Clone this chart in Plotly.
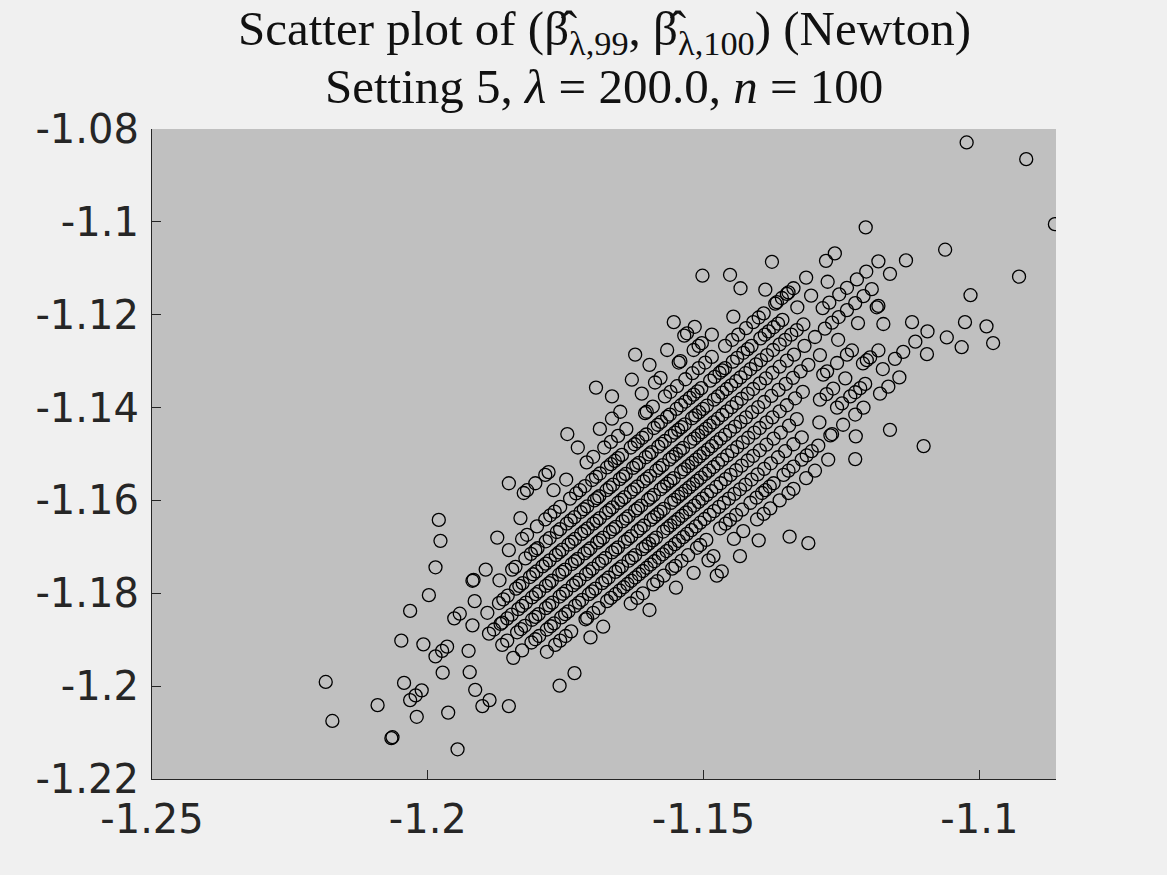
import plotly.graph_objects as go

BG_PAPER = '#f0f0f0'
BG_PLOT = '#c0c0c0'
AXIS = '#262626'

# estimates of (beta_99, beta_100); the points sit on diagonal bands,
# grouped here band by band (upper-left band first)
x_b8 = [-1.1502]
y_b8 = [-1.1116]

x_b7 = [-1.1980, -1.1695, -1.1624, -1.1554, -1.1452]
y_b7 = [-1.1642, -1.1357, -1.1286, -1.1216, -1.1114]

x_b6 = [-1.1977, -1.1853, -1.1747, -1.1666, -1.1630, -1.1598, -1.1566, -1.1535,
        -1.1530, -1.1516, -1.1433, -1.1376]
y_b6 = [-1.1687, -1.1563, -1.1457, -1.1376, -1.1340, -1.1308, -1.1276, -1.1245,
        -1.1240, -1.1226, -1.1143, -1.1086]

x_b5 = [-1.1986, -1.1826, -1.1820, -1.1805, -1.1787, -1.1781, -1.1728, -1.1688,
        -1.1666, -1.1651, -1.1612, -1.1588, -1.1578, -1.1545, -1.1542, -1.1518,
        -1.1509, -1.1503, -1.1485, -1.1446, -1.1388]
y_b5 = [-1.1744, -1.1584, -1.1578, -1.1563, -1.1545, -1.1539, -1.1486, -1.1446,
        -1.1424, -1.1409, -1.1370, -1.1346, -1.1336, -1.1303, -1.1300, -1.1276,
        -1.1267, -1.1261, -1.1243, -1.1204, -1.1146]

x_b4 = [-1.2185, -1.2032, -1.1998, -1.1874, -1.1832, -1.1772, -1.1749, -1.1712,
        -1.1680, -1.1655, -1.1606, -1.1603, -1.1570, -1.1548, -1.1520, -1.1497,
        -1.1485, -1.1461, -1.1423, -1.1400, -1.1391, -1.1370, -1.1367, -1.1358,
        -1.1349, -1.1346, -1.1337, -1.1314, -1.1278, -1.1262, -1.1206, -1.1023,
        -1.1700, -1.1668, -1.1640, -1.1592, -1.1560, -1.1533, -1.1509, -1.1448,
        -1.1437, -1.1410]
y_b4 = [-1.1991, -1.1838, -1.1804, -1.1680, -1.1638, -1.1578, -1.1555, -1.1518,
        -1.1486, -1.1461, -1.1412, -1.1409, -1.1376, -1.1354, -1.1326, -1.1303,
        -1.1291, -1.1267, -1.1229, -1.1206, -1.1197, -1.1176, -1.1173, -1.1164,
        -1.1155, -1.1152, -1.1143, -1.1120, -1.1084, -1.1068, -1.1012, -1.0829,
        -1.1506, -1.1474, -1.1446, -1.1398, -1.1366, -1.1339, -1.1315, -1.1254,
        -1.1243, -1.1216]

x_b3 = [-1.2048, -1.1919, -1.1917, -1.1895, -1.1853, -1.1829, -1.1820, -1.1802,
        -1.1787, -1.1778, -1.1760, -1.1742, -1.1731, -1.1715, -1.1702, -1.1688,
        -1.1675, -1.1661, -1.1648, -1.1632, -1.1619, -1.1604, -1.1590, -1.1577,
        -1.1561, -1.1549, -1.1533, -1.1518, -1.1504, -1.1488, -1.1471, -1.1461,
        -1.1447, -1.1428, -1.1413, -1.1397, -1.1382, -1.1373, -1.1357, -1.1330,
        -1.1305, -1.1275,
        -1.1770, -1.1724, -1.1695, -1.1668, -1.1655, -1.1625, -1.1611, -1.1583,
        -1.1566, -1.1541, -1.1525, -1.1511, -1.1480, -1.1466, -1.1439, -1.1420,
        -1.1389, -1.1365]
y_b3 = [-1.1902, -1.1773, -1.1771, -1.1749, -1.1707, -1.1683, -1.1674, -1.1656,
        -1.1641, -1.1632, -1.1614, -1.1596, -1.1585, -1.1569, -1.1556, -1.1542,
        -1.1529, -1.1515, -1.1502, -1.1486, -1.1473, -1.1458, -1.1444, -1.1431,
        -1.1415, -1.1403, -1.1387, -1.1372, -1.1358, -1.1342, -1.1325, -1.1315,
        -1.1301, -1.1282, -1.1267, -1.1251, -1.1236, -1.1227, -1.1211, -1.1184,
        -1.1159, -1.1129,
        -1.1624, -1.1578, -1.1549, -1.1522, -1.1509, -1.1479, -1.1465, -1.1437,
        -1.1420, -1.1395, -1.1379, -1.1365, -1.1334, -1.1320, -1.1293, -1.1274,
        -1.1243, -1.1219]

x_b2 = [-1.2173, -1.2008, -1.1952, -1.1942, -1.1915, -1.1870, -1.1847, -1.1841,
        -1.1823, -1.1805, -1.1801, -1.1786, -1.1766, -1.1760, -1.1748, -1.1734,
        -1.1723, -1.1711, -1.1698, -1.1689, -1.1676, -1.1664, -1.1652, -1.1641,
        -1.1628, -1.1617, -1.1605, -1.1594, -1.1582, -1.1570, -1.1559, -1.1546,
        -1.1534, -1.1521, -1.1508, -1.1494, -1.1481, -1.1466, -1.1450, -1.1433,
        -1.1415, -1.1396, -1.1374, -1.1352, -1.1331, -1.1319, -1.1284, -1.1272,
        -1.1254, -1.1240, -1.1222, -1.1205, -1.1183,
        -1.1813, -1.1779, -1.1741, -1.1717, -1.1693, -1.1670, -1.1646, -1.1622,
        -1.1599, -1.1576, -1.1552, -1.1540, -1.1515, -1.1501, -1.1474, -1.1458,
        -1.1441, -1.1424, -1.1405, -1.1385, -1.1362, -1.1341]
y_b2 = [-1.2075, -1.1910, -1.1854, -1.1844, -1.1817, -1.1772, -1.1749, -1.1743,
        -1.1725, -1.1707, -1.1703, -1.1688, -1.1668, -1.1662, -1.1650, -1.1636,
        -1.1625, -1.1613, -1.1600, -1.1591, -1.1578, -1.1566, -1.1554, -1.1543,
        -1.1530, -1.1519, -1.1507, -1.1496, -1.1484, -1.1472, -1.1461, -1.1448,
        -1.1436, -1.1423, -1.1410, -1.1396, -1.1383, -1.1368, -1.1352, -1.1335,
        -1.1317, -1.1298, -1.1276, -1.1254, -1.1233, -1.1221, -1.1186, -1.1174,
        -1.1156, -1.1142, -1.1124, -1.1107, -1.1085,
        -1.1715, -1.1681, -1.1643, -1.1619, -1.1595, -1.1572, -1.1548, -1.1524,
        -1.1501, -1.1478, -1.1454, -1.1442, -1.1417, -1.1403, -1.1376, -1.1360,
        -1.1343, -1.1326, -1.1307, -1.1287, -1.1264, -1.1243]

x_b1 = [-1.2091, -1.2043, -1.1986, -1.1974, -1.1965, -1.1919, -1.1892, -1.1871,
        -1.1855, -1.1840, -1.1828, -1.1815, -1.1803, -1.1792, -1.1779, -1.1768,
        -1.1756, -1.1745, -1.1733, -1.1722, -1.1710, -1.1700, -1.1688, -1.1677,
        -1.1665, -1.1655, -1.1643, -1.1632, -1.1620, -1.1609, -1.1597, -1.1586,
        -1.1574, -1.1562, -1.1550, -1.1537, -1.1524, -1.1510, -1.1496, -1.1482,
        -1.1466, -1.1449, -1.1431, -1.1410, -1.1387, -1.1362, -1.1336, -1.1298,
        -1.1280, -1.1267, -1.1255, -1.1240, -1.1225, -1.1210, -1.1195, -1.1162,
        -1.1133, -1.0915,
        -1.1863, -1.1834, -1.1809, -1.1786, -1.1762, -1.1739, -1.1716, -1.1694,
        -1.1671, -1.1649, -1.1626, -1.1603, -1.1580, -1.1556, -1.1543, -1.1517,
        -1.1503, -1.1489, -1.1474, -1.1458, -1.1440, -1.1420, -1.1398, -1.1375,
        -1.1349, -1.1317]
y_b1 = [-1.2041, -1.1993, -1.1936, -1.1924, -1.1915, -1.1869, -1.1842, -1.1821,
        -1.1805, -1.1790, -1.1778, -1.1765, -1.1753, -1.1742, -1.1729, -1.1718,
        -1.1706, -1.1695, -1.1683, -1.1672, -1.1660, -1.1650, -1.1638, -1.1627,
        -1.1615, -1.1605, -1.1593, -1.1582, -1.1570, -1.1559, -1.1547, -1.1536,
        -1.1524, -1.1512, -1.1500, -1.1487, -1.1474, -1.1460, -1.1446, -1.1432,
        -1.1416, -1.1399, -1.1381, -1.1360, -1.1337, -1.1312, -1.1286, -1.1248,
        -1.1230, -1.1217, -1.1205, -1.1190, -1.1175, -1.1160, -1.1145, -1.1112,
        -1.1083, -1.0865,
        -1.1813, -1.1784, -1.1759, -1.1736, -1.1712, -1.1689, -1.1666, -1.1644,
        -1.1621, -1.1599, -1.1576, -1.1553, -1.1530, -1.1506, -1.1493, -1.1467,
        -1.1453, -1.1439, -1.1424, -1.1408, -1.1390, -1.1370, -1.1348, -1.1325,
        -1.1299, -1.1267]

x_b0 = [-1.2032, -1.2022, -1.2011, -1.1973, -1.1926, -1.1889, -1.1880, -1.1868,
        -1.1865, -1.1848, -1.1836, -1.1822, -1.1811, -1.1798, -1.1786, -1.1775,
        -1.1762, -1.1751, -1.1739, -1.1728, -1.1716, -1.1705, -1.1693, -1.1682,
        -1.1670, -1.1659, -1.1647, -1.1636, -1.1624, -1.1613, -1.1601, -1.1590,
        -1.1578, -1.1566, -1.1554, -1.1541, -1.1528, -1.1514, -1.1500, -1.1485,
        -1.1469, -1.1452, -1.1433, -1.1412, -1.1390, -1.1364, -1.1338, -1.1310,
        -1.1289, -1.1256, -1.1220, -1.1186, -1.1183, -1.1062,
        -1.1856, -1.1829, -1.1804, -1.1780, -1.1756, -1.1733, -1.1710, -1.1688,
        -1.1664, -1.1641, -1.1619, -1.1596, -1.1572, -1.1560, -1.1535, -1.1521,
        -1.1507, -1.1492, -1.1477, -1.1461, -1.1443, -1.1423, -1.1401, -1.1377,
        -1.1351, -1.1324]
y_b0 = [-1.2030, -1.2020, -1.2009, -1.1971, -1.1924, -1.1887, -1.1878, -1.1866,
        -1.1863, -1.1846, -1.1834, -1.1820, -1.1809, -1.1796, -1.1784, -1.1773,
        -1.1760, -1.1749, -1.1737, -1.1726, -1.1714, -1.1703, -1.1691, -1.1680,
        -1.1668, -1.1657, -1.1645, -1.1634, -1.1622, -1.1611, -1.1599, -1.1588,
        -1.1576, -1.1564, -1.1552, -1.1539, -1.1526, -1.1512, -1.1498, -1.1483,
        -1.1467, -1.1450, -1.1431, -1.1410, -1.1388, -1.1362, -1.1336, -1.1308,
        -1.1287, -1.1254, -1.1218, -1.1184, -1.1181, -1.1060,
        -1.1854, -1.1827, -1.1802, -1.1778, -1.1754, -1.1731, -1.1708, -1.1686,
        -1.1662, -1.1639, -1.1617, -1.1594, -1.1570, -1.1558, -1.1533, -1.1519,
        -1.1505, -1.1490, -1.1475, -1.1459, -1.1441, -1.1421, -1.1399, -1.1375,
        -1.1349, -1.1322]

x_m1 = [-1.2066, -1.2064, -1.2020, -1.1924, -1.1865, -1.1856, -1.1838, -1.1824,
        -1.1811, -1.1799, -1.1786, -1.1774, -1.1761, -1.1749, -1.1737, -1.1725,
        -1.1713, -1.1701, -1.1690, -1.1678, -1.1666, -1.1655, -1.1643, -1.1631,
        -1.1620, -1.1608, -1.1596, -1.1584, -1.1572, -1.1559, -1.1546, -1.1533,
        -1.1519, -1.1505, -1.1490, -1.1474, -1.1457, -1.1439, -1.1419, -1.1398,
        -1.1375, -1.1349, -1.1320, -1.1283, -1.1276, -1.1258, -1.1240, -1.1231,
        -1.1174,
        -1.1831, -1.1805, -1.1780, -1.1755, -1.1731, -1.1707, -1.1684, -1.1660,
        -1.1637, -1.1614, -1.1590, -1.1578, -1.1553, -1.1540, -1.1526, -1.1512,
        -1.1497, -1.1482, -1.1466, -1.1448, -1.1429, -1.1408, -1.1386, -1.1362,
        -1.1334]
y_m1 = [-1.2112, -1.2110, -1.2066, -1.1970, -1.1911, -1.1902, -1.1884, -1.1870,
        -1.1857, -1.1845, -1.1832, -1.1820, -1.1807, -1.1795, -1.1783, -1.1771,
        -1.1759, -1.1747, -1.1736, -1.1724, -1.1712, -1.1701, -1.1689, -1.1677,
        -1.1666, -1.1654, -1.1642, -1.1630, -1.1618, -1.1605, -1.1592, -1.1579,
        -1.1565, -1.1551, -1.1536, -1.1520, -1.1503, -1.1485, -1.1465, -1.1444,
        -1.1421, -1.1395, -1.1366, -1.1329, -1.1322, -1.1304, -1.1286, -1.1277,
        -1.1220,
        -1.1877, -1.1851, -1.1826, -1.1801, -1.1777, -1.1753, -1.1730, -1.1706,
        -1.1683, -1.1660, -1.1636, -1.1624, -1.1599, -1.1586, -1.1572, -1.1558,
        -1.1543, -1.1528, -1.1512, -1.1494, -1.1475, -1.1454, -1.1432, -1.1408,
        -1.1380]

x_m2 = [-1.1963, -1.1914, -1.1845, -1.1829, -1.1812, -1.1798, -1.1784, -1.1771,
        -1.1758, -1.1745, -1.1733, -1.1720, -1.1708, -1.1696, -1.1684, -1.1672,
        -1.1660, -1.1648, -1.1636, -1.1624, -1.1611, -1.1599, -1.1586, -1.1573,
        -1.1560, -1.1546, -1.1532, -1.1517, -1.1502, -1.1486, -1.1469, -1.1451,
        -1.1431, -1.1410, -1.1386, -1.1360, -1.1331, -1.1289, -1.1277, -1.1265,
        -1.1243, -1.1211, -1.1204, -1.1198, -1.1183, -1.1122,
        -1.1805, -1.1777, -1.1751, -1.1726, -1.1702, -1.1678, -1.1654, -1.1630,
        -1.1605, -1.1592, -1.1566, -1.1553, -1.1539, -1.1525, -1.1509, -1.1494,
        -1.1477, -1.1460, -1.1441, -1.1420, -1.1398, -1.1373, -1.1345]
y_m2 = [-1.2057, -1.2008, -1.1939, -1.1923, -1.1906, -1.1892, -1.1878, -1.1865,
        -1.1852, -1.1839, -1.1827, -1.1814, -1.1802, -1.1790, -1.1778, -1.1766,
        -1.1754, -1.1742, -1.1730, -1.1718, -1.1705, -1.1693, -1.1680, -1.1667,
        -1.1654, -1.1640, -1.1626, -1.1611, -1.1596, -1.1580, -1.1563, -1.1545,
        -1.1525, -1.1504, -1.1480, -1.1454, -1.1425, -1.1383, -1.1371, -1.1359,
        -1.1337, -1.1305, -1.1298, -1.1292, -1.1277, -1.1216,
        -1.1899, -1.1871, -1.1845, -1.1820, -1.1796, -1.1772, -1.1748, -1.1724,
        -1.1699, -1.1686, -1.1660, -1.1647, -1.1633, -1.1619, -1.1603, -1.1588,
        -1.1571, -1.1554, -1.1535, -1.1514, -1.1492, -1.1467, -1.1439]

x_m3 = [-1.1901, -1.1888, -1.1784, -1.1769, -1.1760, -1.1740, -1.1714, -1.1711,
        -1.1690, -1.1675, -1.1660, -1.1645, -1.1631, -1.1617, -1.1603, -1.1589,
        -1.1574, -1.1560, -1.1545, -1.1530, -1.1514, -1.1498, -1.1481, -1.1463,
        -1.1444, -1.1424, -1.1402, -1.1378, -1.1352, -1.1322, -1.1290, -1.1258,
        -1.1249, -1.1234, -1.1225, -1.1216, -1.1207, -1.1175, -1.1153, -1.1138,
        -1.1116, -1.1094, -1.1016, -1.0863,
        -1.1750, -1.1700, -1.1668, -1.1652, -1.1638, -1.1624, -1.1610, -1.1596,
        -1.1581, -1.1567, -1.1552, -1.1537, -1.1522, -1.1506, -1.1489, -1.1472,
        -1.1454, -1.1434, -1.1413, -1.1390, -1.1365, -1.1337]
y_m3 = [-1.2043, -1.2030, -1.1926, -1.1911, -1.1902, -1.1882, -1.1856, -1.1853,
        -1.1832, -1.1817, -1.1802, -1.1787, -1.1773, -1.1759, -1.1745, -1.1731,
        -1.1716, -1.1702, -1.1687, -1.1672, -1.1656, -1.1640, -1.1623, -1.1605,
        -1.1586, -1.1566, -1.1544, -1.1520, -1.1494, -1.1464, -1.1432, -1.1400,
        -1.1391, -1.1376, -1.1367, -1.1358, -1.1349, -1.1317, -1.1295, -1.1280,
        -1.1258, -1.1236, -1.1158, -1.1005,
        -1.1892, -1.1842, -1.1810, -1.1794, -1.1780, -1.1766, -1.1752, -1.1738,
        -1.1723, -1.1709, -1.1694, -1.1679, -1.1664, -1.1648, -1.1631, -1.1614,
        -1.1596, -1.1576, -1.1555, -1.1532, -1.1507, -1.1479]

x_m4 = [-1.1946, -1.1853, -1.1705, -1.1682, -1.1632, -1.1610, -1.1591, -1.1584,
        -1.1557, -1.1551, -1.1528, -1.1512, -1.1506, -1.1470, -1.1452, -1.1430,
        -1.1415, -1.1394, -1.1388, -1.1373, -1.1355, -1.1337, -1.1322, -1.1304,
        -1.1292, -1.1270, -1.1267, -1.1247, -1.1225, -1.1210, -1.1180, -1.1165,
        -1.1145, -1.1095, -1.1059, -1.1026, -1.0928,
        -1.1620, -1.1572, -1.1540, -1.1495, -1.1460, -1.1441, -1.1404, -1.1380,
        -1.1346, -1.1313]
y_m4 = [-1.2136, -1.2043, -1.1895, -1.1872, -1.1822, -1.1800, -1.1781, -1.1774,
        -1.1747, -1.1741, -1.1718, -1.1702, -1.1696, -1.1660, -1.1642, -1.1620,
        -1.1605, -1.1584, -1.1578, -1.1563, -1.1545, -1.1527, -1.1512, -1.1494,
        -1.1482, -1.1460, -1.1457, -1.1437, -1.1415, -1.1400, -1.1370, -1.1355,
        -1.1335, -1.1285, -1.1249, -1.1216, -1.1118,
        -1.1810, -1.1762, -1.1730, -1.1685, -1.1650, -1.1631, -1.1594, -1.1570,
        -1.1536, -1.1503]

x_m5 = [-1.1761, -1.1734, -1.1598, -1.1550, -1.1518, -1.1491, -1.1482, -1.1445,
        -1.1428, -1.1403, -1.1391, -1.1379, -1.1362, -1.1346, -1.1337, -1.1314,
        -1.1298, -1.1274, -1.1224, -1.1032, -1.0987]
y_m5 = [-1.1999, -1.1972, -1.1836, -1.1788, -1.1756, -1.1729, -1.1720, -1.1683,
        -1.1666, -1.1641, -1.1629, -1.1617, -1.1600, -1.1584, -1.1575, -1.1552,
        -1.1536, -1.1512, -1.1462, -1.1270, -1.1225]

x_m6 = [-1.1476, -1.1467, -1.1434, -1.1400, -1.1225, -1.1162, -1.0975]
y_m6 = [-1.1762, -1.1753, -1.1720, -1.1686, -1.1511, -1.1448, -1.1261]

x_m7 = [-1.1344]
y_m7 = [-1.1678]

x_m8 = [-1.1310, -1.1101]
y_m8 = [-1.1692, -1.1483]

x_ticks = [-1.25, -1.2, -1.15, -1.1]
x_labels = ['-1.25', '-1.2', '-1.15', '-1.1']
y_ticks = [-1.22, -1.2, -1.18, -1.16, -1.14, -1.12, -1.1, -1.08]
y_labels = ['-1.22', '-1.2', '-1.18', '-1.16', '-1.14', '-1.12', '-1.1', '-1.08']

title_lines = [
    'Scatter plot of (β̂<sub>λ,99</sub>, β̂<sub>λ,100</sub>) (Newton)',
    'Setting 5, <i>λ</i> = 200.0, <i>n</i> = 100',
]

bands_x = [x_b8, x_b7, x_b6, x_b5, x_b4, x_b3, x_b2, x_b1, x_b0,
           x_m1, x_m2, x_m3, x_m4, x_m5, x_m6, x_m7, x_m8]
bands_y = [y_b8, y_b7, y_b6, y_b5, y_b4, y_b3, y_b2, y_b1, y_b0,
           y_m1, y_m2, y_m3, y_m4, y_m5, y_m6, y_m7, y_m8]
xs = [v for band in bands_x for v in band]
ys = [v for band in bands_y for v in band]

fig = go.Figure()
fig.add_trace(go.Scatter(
    x=xs, y=ys,
    mode='markers',
    marker=dict(symbol='circle-open', size=13, color='#000000',
                line=dict(width=1.3, color='#000000')),
    showlegend=False,
    hoverinfo='x+y'
))

# two title lines as annotations so they can be placed exactly
for text, ypos in zip(title_lines, [1.150, 1.066]):
    fig.add_annotation(
        text=text, x=0.5, y=ypos, xref='paper', yref='paper',
        xanchor='center', yanchor='middle', showarrow=False,
        font=dict(family='Liberation Serif', size=49, color='#111111')
    )

fig.update_layout(
    width=1167, height=875,
    paper_bgcolor=BG_PAPER,
    plot_bgcolor=BG_PLOT,
    margin=dict(l=152, r=111, t=129, b=96),
    font=dict(family='DejaVu Sans', color=AXIS),
    showlegend=False
)
fig.update_xaxes(
    range=[-1.25, -1.0861], tickvals=x_ticks, ticktext=x_labels,
    showgrid=False, zeroline=False, showline=True, linecolor=AXIS, linewidth=1.2,
    ticks='inside', ticklen=9, tickcolor=AXIS, tickwidth=1,
    ticklabelstandoff=5,
    tickfont=dict(family='DejaVu Sans', size=40, color=AXIS)
)
fig.update_yaxes(
    range=[-1.22, -1.08], tickvals=y_ticks, ticktext=y_labels,
    showgrid=False, zeroline=False, showline=True, linecolor=AXIS, linewidth=1.2,
    ticks='inside', ticklen=9, tickcolor=AXIS, tickwidth=1,
    ticklabelstandoff=4,
    tickfont=dict(family='DejaVu Sans', size=40, color=AXIS)
)

fig.write_html(
    'out.html',
    config={'displayModeBar': False},
    post_script="document.body.style.margin='0';"
                "document.body.style.background='#f0f0f0';"
)
